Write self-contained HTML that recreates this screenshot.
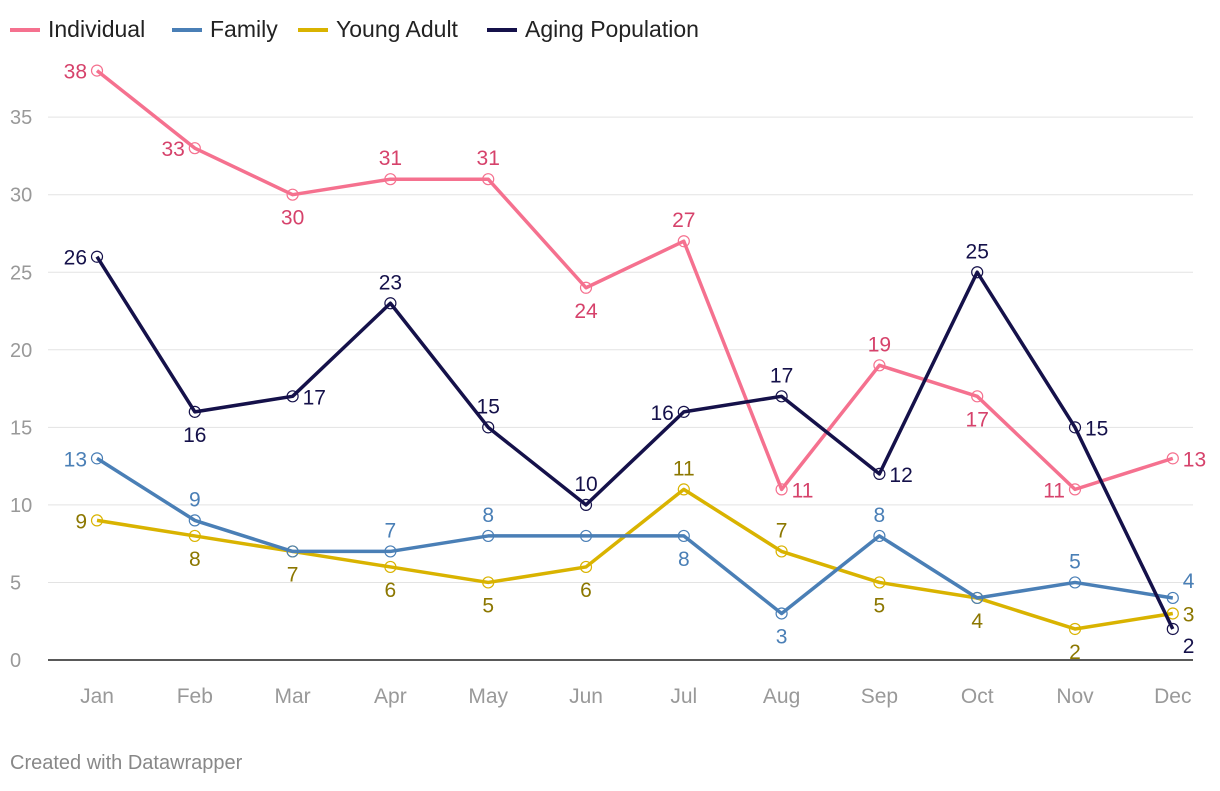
<!DOCTYPE html>
<html><head><meta charset="utf-8"><style>
html,body{margin:0;padding:0;background:#fff;}
body{width:1220px;height:786px;overflow:hidden;font-family:"Liberation Sans",sans-serif;}
svg text{font-family:"Liberation Sans",sans-serif;}
</style></head><body>
<svg id="chart" width="1220" height="786" xmlns="http://www.w3.org/2000/svg">
<g id="legend"></g>
<g id="grid"></g>
<g id="series"></g>
<text x="10" y="769" font-size="20" fill="#888">Created with Datawrapper</text>
</svg>
<script>
const months=["Jan","Feb","Mar","Apr","May","Jun","Jul","Aug","Sep","Oct","Nov","Dec"];
const yTicks=[0,5,10,15,20,25,30,35];
const seriesNames=["Individual","Family","Young Adult","Aging Population"];
const individual=[38,33,30,31,31,24,27,11,19,17,11,13];
const family=[13,9,7,7,8,8,8,3,8,4,5,4];
const youngAdult=[9,8,7,6,5,6,11,7,5,4,2,3];
const aging=[26,16,17,23,15,10,16,17,12,25,15,2];
const posInd=["l","l","b","a","a","b","a","r","a","b","l","r"];
const posFam=["l","a","","a","a","","b","b","a","","a","ar"];
const posYA=["l","b","b","b","b","b","a","a","b","b","b","r"];
const posAg=["l","b","r","a","a","a","l","a","r","a","r","br"];

const NS="http://www.w3.org/2000/svg";
const x=i=>97+i*97.8;
const y=v=>660-v*15.51;
function mk(tag,attrs,parent,txt){const e=document.createElementNS(NS,tag);for(const k in attrs)e.setAttribute(k,attrs[k]);if(txt!==undefined)e.textContent=txt;parent.appendChild(e);return e;}
const grid=document.getElementById('grid');
yTicks.forEach(t=>{
  if(t>0){const l=mk('line',{x1:48,x2:1193,y1:y(t),y2:y(t),stroke:'#e3e3e3','stroke-width':1},grid);
  
  }
  const tx=mk('text',{x:10,y:y(t)+7,'font-size':20,fill:'#999'},grid,String(t));
  
  
});
const base=mk('line',{x1:48,x2:1193,y1:y(0),y2:y(0),stroke:'#222','stroke-width':1.5},grid);


months.forEach((m,i)=>{
  const tx=mk('text',{x:x(i),y:703,'font-size':21,fill:'#999','text-anchor':'middle'},grid,m);
  
  
});
const defs=[
 {name:"individual",vals:individual,pos:posInd,line:"#f5718f",lab:"#d6426b"},
 {name:"family",vals:family,pos:posFam,line:"#4a7fb6",lab:"#4a7fb6"},
 {name:"young-adult",vals:youngAdult,pos:posYA,line:"#d9b300",lab:"#8c7700"},
 {name:"aging",vals:aging,pos:posAg,line:"#15114a",lab:"#15114a"}
];
const sg=document.getElementById('series');
const order=[2,1,0,3];
order.forEach(si=>{
  const d=defs[si];
  const g=mk('g',{},sg);
  
  
  const p=mk('polyline',{points:d.vals.map((v,i)=>x(i)+','+y(v)).join(' '),fill:'none',stroke:d.line,'stroke-width':3.5,'stroke-linejoin':'round'},g);
  
  
  d.vals.forEach((v,i)=>{
    const c=mk('circle',{cx:x(i),cy:y(v),r:5.5,fill:'none',stroke:d.line,'stroke-width':1.2},g);
    
    
    const ps=d.pos[i]; if(!ps)return;
    let lx=x(i),ly=y(v)+8,anc='middle';
    if(ps==='a')ly=y(v)-14;
    if(ps==='b')ly=y(v)+30;
    if(ps==='l'){lx=x(i)-10;anc='end';}
    if(ps==='r'){lx=x(i)+10;anc='start';}
    if(ps==='ar'){lx=x(i)+10;anc='start';ly=y(v)-10;}
    if(ps==='br'){lx=x(i)+10;anc='start';ly=y(v)+24;}
    const t=mk('text',{x:lx,y:ly,'font-size':21,fill:d.lab,'text-anchor':anc},g,String(v));
    
    
  });
});
const lg=document.getElementById('legend');
const lx=[10,172,298,487];
seriesNames.forEach((n,i)=>{
  const l=mk('line',{x1:lx[i],x2:lx[i]+30,y1:30,y2:30,stroke:defs[i].line,'stroke-width':4},lg);
  
  
  const t=mk('text',{x:lx[i]+38,y:37,'font-size':23,fill:'#222'},lg,n);
  
  
});
</script>
</body></html>
